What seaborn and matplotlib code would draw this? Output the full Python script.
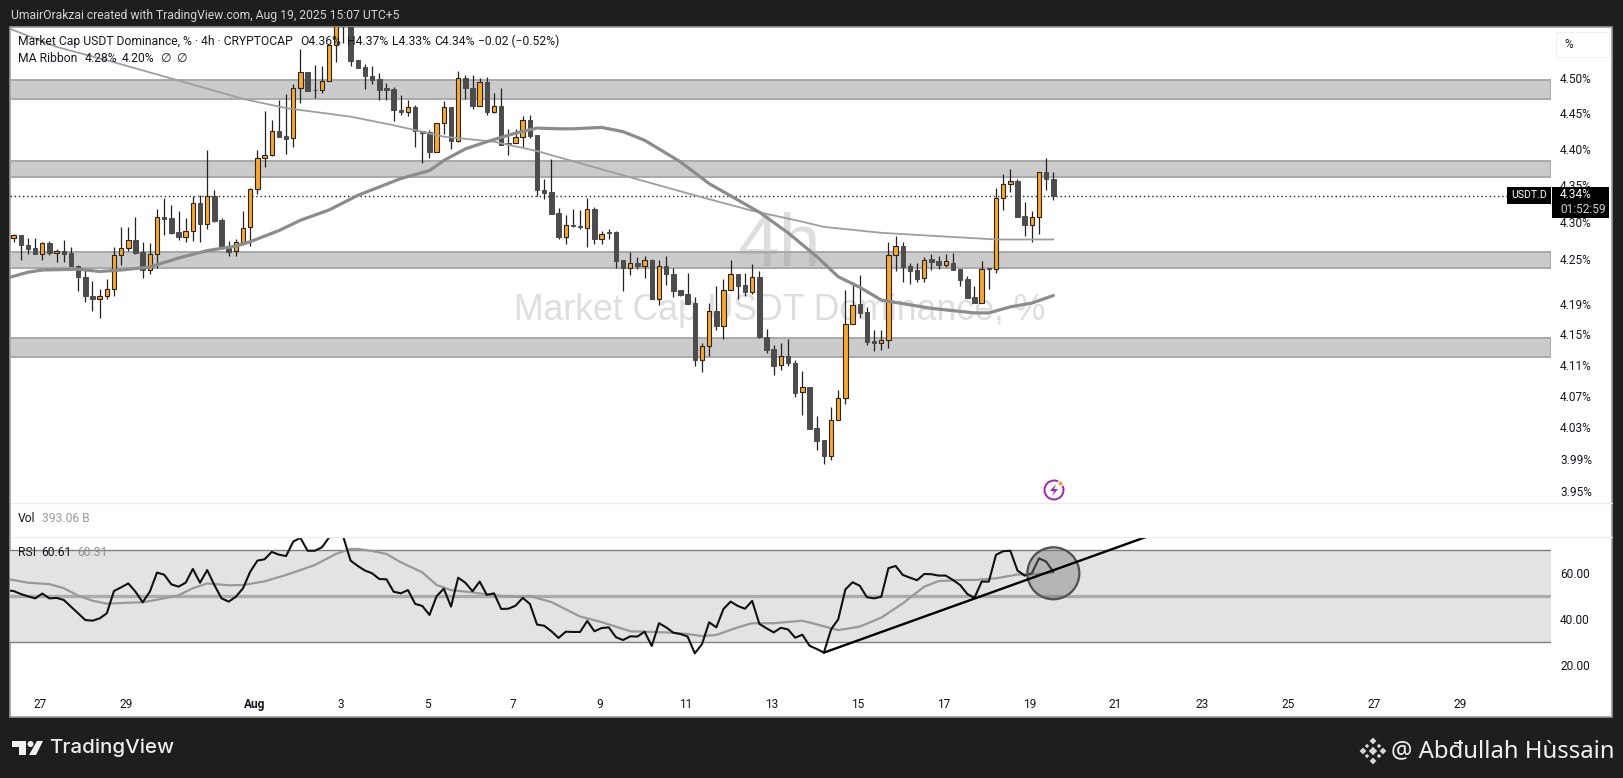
import numpy as np
import seaborn as sns
import matplotlib
matplotlib.use("Agg")
import matplotlib.pyplot as plt
from matplotlib.patches import Rectangle, Circle, Ellipse, Polygon
from matplotlib.lines import Line2D
from matplotlib.ticker import NullLocator
from matplotlib.transforms import IdentityTransform

W, H = 1623, 778

# candles, 4h (percent)
highs = [4.284, 4.282, 4.278, 4.278, 4.273, 4.274, 4.263, 4.275, 4.266, 4.242,
         4.235, 4.220, 4.209, 4.223, 4.266, 4.293, 4.293, 4.306, 4.273, 4.271,
         4.317, 4.332, 4.323, 4.314, 4.305, 4.335, 4.336, 4.398, 4.343, 4.305,
         4.274, 4.277, 4.314, 4.346, 4.398, 4.453, 4.440, 4.468, 4.477, 4.491,
         4.541, 4.508, 4.518, 4.516, 4.546, 4.590, 4.597, 4.591, 4.525, 4.519,
         4.516, 4.506, 4.493, 4.487, 4.475, 4.468, 4.462, 4.425, 4.426, 4.436,
         4.467, 4.459, 4.510, 4.504, 4.504, 4.499, 4.501, 4.478, 4.485, 4.428,
         4.428, 4.446, 4.447, 4.419, 4.358, 4.386, 4.319, 4.309, 4.317, 4.316,
         4.332, 4.320, 4.287, 4.290, 4.287, 4.249, 4.259, 4.253, 4.254, 4.250,
         4.248, 4.254, 4.238, 4.208, 4.231, 4.199, 4.139, 4.191, 4.213, 4.223,
         4.248, 4.229, 4.231, 4.243, 4.233, 4.157, 4.136, 4.139, 4.144, 4.117,
         4.102, 4.081, 4.044, 4.014, 4.056, 4.077, 4.208, 4.219, 4.228, 4.186,
         4.156, 4.156, 4.273, 4.281, 4.273, 4.245, 4.245, 4.253, 4.257, 4.254,
         4.256, 4.258, 4.236, 4.227, 4.214, 4.247, 4.237, 4.346, 4.365, 4.372,
         4.358, 4.327, 4.315, 4.368, 4.387, 4.368]
lows = [4.272, 4.248, 4.256, 4.256, 4.248, 4.255, 4.246, 4.246, 4.240, 4.207,
        4.192, 4.181, 4.171, 4.197, 4.201, 4.242, 4.261, 4.256, 4.224, 4.230,
        4.237, 4.282, 4.284, 4.275, 4.272, 4.274, 4.273, 4.290, 4.300, 4.264,
        4.254, 4.254, 4.268, 4.267, 4.338, 4.375, 4.390, 4.417, 4.393, 4.403,
        4.464, 4.481, 4.471, 4.479, 4.496, 4.523, 4.550, 4.517, 4.514, 4.484,
        4.491, 4.468, 4.469, 4.439, 4.448, 4.446, 4.403, 4.381, 4.388, 4.396,
        4.421, 4.400, 4.410, 4.470, 4.456, 4.460, 4.448, 4.450, 4.405, 4.392,
        4.408, 4.402, 4.415, 4.335, 4.331, 4.311, 4.277, 4.270, 4.293, 4.290,
        4.266, 4.270, 4.270, 4.277, 4.238, 4.207, 4.228, 4.236, 4.224, 4.196,
        4.189, 4.215, 4.199, 4.200, 4.190, 4.109, 4.101, 4.121, 4.156, 4.144,
        4.208, 4.196, 4.201, 4.203, 4.145, 4.126, 4.097, 4.103, 4.108, 4.069,
        4.045, 4.028, 4.001, 3.983, 3.988, 4.039, 4.060, 4.163, 4.171, 4.136,
        4.128, 4.129, 4.132, 4.233, 4.219, 4.216, 4.219, 4.219, 4.235, 4.236,
        4.239, 4.235, 4.213, 4.198, 4.191, 4.191, 4.210, 4.231, 4.316, 4.340,
        4.306, 4.281, 4.272, 4.283, 4.343, 4.330]
opens = [4.278, 4.282, 4.268, 4.264, 4.257, 4.271, 4.258, 4.261, 4.258, 4.241,
         4.226, 4.201, 4.197, 4.201, 4.209, 4.255, 4.265, 4.275, 4.259, 4.235,
         4.257, 4.307, 4.305, 4.286, 4.280, 4.288, 4.326, 4.297, 4.335, 4.302,
         4.267, 4.260, 4.271, 4.293, 4.344, 4.387, 4.391, 4.425, 4.418, 4.415,
         4.485, 4.508, 4.483, 4.482, 4.496, 4.546, 4.588, 4.583, 4.525, 4.515,
         4.502, 4.498, 4.485, 4.484, 4.455, 4.451, 4.459, 4.425, 4.423, 4.396,
         4.436, 4.458, 4.411, 4.499, 4.486, 4.460, 4.494, 4.452, 4.460, 4.408,
         4.408, 4.416, 4.440, 4.419, 4.343, 4.341, 4.312, 4.280, 4.295, 4.294,
         4.292, 4.317, 4.276, 4.286, 4.286, 4.248, 4.237, 4.244, 4.241, 4.249,
         4.196, 4.240, 4.229, 4.208, 4.203, 4.191, 4.117, 4.134, 4.181, 4.161,
         4.208, 4.229, 4.215, 4.206, 4.226, 4.146, 4.131, 4.110, 4.122, 4.113,
         4.075, 4.081, 4.029, 4.014, 3.993, 4.039, 4.067, 4.163, 4.190, 4.179,
         4.141, 4.138, 4.142, 4.255, 4.267, 4.240, 4.235, 4.224, 4.250, 4.247,
         4.242, 4.245, 4.236, 4.223, 4.199, 4.191, 4.237, 4.236, 4.332, 4.351,
         4.355, 4.308, 4.296, 4.306, 4.368, 4.358]
closes = [4.282, 4.268, 4.263, 4.257, 4.271, 4.258, 4.261, 4.257, 4.241, 4.225,
          4.201, 4.197, 4.201, 4.209, 4.255, 4.265, 4.275, 4.258, 4.235, 4.257,
          4.307, 4.304, 4.285, 4.280, 4.288, 4.326, 4.297, 4.335, 4.301, 4.267,
          4.259, 4.272, 4.292, 4.344, 4.387, 4.391, 4.425, 4.417, 4.414, 4.485,
          4.508, 4.481, 4.482, 4.496, 4.546, 4.580, 4.585, 4.524, 4.514, 4.502,
          4.497, 4.483, 4.483, 4.455, 4.451, 4.458, 4.425, 4.422, 4.396, 4.436,
          4.458, 4.411, 4.499, 4.486, 4.460, 4.494, 4.452, 4.460, 4.406, 4.407,
          4.416, 4.440, 4.418, 4.343, 4.339, 4.311, 4.280, 4.295, 4.294, 4.293,
          4.317, 4.276, 4.284, 4.285, 4.247, 4.237, 4.244, 4.240, 4.249, 4.196,
          4.240, 4.229, 4.207, 4.202, 4.190, 4.116, 4.134, 4.181, 4.161, 4.208,
          4.229, 4.214, 4.206, 4.225, 4.146, 4.130, 4.109, 4.121, 4.113, 4.074,
          4.081, 4.028, 4.013, 3.993, 4.039, 4.067, 4.163, 4.189, 4.178, 4.140,
          4.138, 4.142, 4.255, 4.267, 4.239, 4.234, 4.223, 4.249, 4.246, 4.242,
          4.247, 4.235, 4.222, 4.198, 4.191, 4.236, 4.236, 4.332, 4.351, 4.355,
          4.307, 4.296, 4.306, 4.368, 4.358, 4.335]

# the two moving averages, read at a few candles (-1 is just off the left edge)
ma_thin_x = [-1, 6, 14, 23, 32, 38, 47, 53, 60, 67, 73, 83, 95, 103, 110, 113, 121, 128, 137, 145]
ma_thin_y = [4.572, 4.544, 4.522, 4.496, 4.470, 4.457, 4.445, 4.433, 4.417, 4.410,
             4.397, 4.369, 4.336, 4.315, 4.300, 4.293, 4.285, 4.281, 4.276, 4.276]
ma_thick_x = [-1, 2, 4, 9, 12, 15, 19, 23, 27, 31, 33, 37, 40, 42, 44, 48, 54, 58, 60, 63, 66, 70, 73,
              76, 78, 82, 85, 88, 93, 97, 104, 108, 112, 115, 118, 121, 128, 134, 136, 139, 142, 145]
ma_thick_y = [4.224, 4.232, 4.235, 4.236, 4.233, 4.235, 4.239, 4.251, 4.261, 4.267, 4.273, 4.288,
              4.302, 4.309, 4.316, 4.336, 4.359, 4.370, 4.384, 4.400, 4.410, 4.422, 4.429,
              4.428, 4.428, 4.430, 4.424, 4.412, 4.382, 4.352, 4.313, 4.285, 4.253, 4.226,
              4.212, 4.195, 4.184, 4.178, 4.178, 4.186, 4.191, 4.201]

# grey zones drawn by the author
zone_lows = [4.470, 4.361, 4.238, 4.120]
zone_highs = [4.497, 4.383, 4.259, 4.145]

price_ticks = [4.50, 4.45, 4.40, 4.35, 4.30, 4.25, 4.19, 4.15, 4.11, 4.07, 4.03, 3.99, 3.95]

# first value is the candle just off the left edge
rsi = [52.6,
       52.3, 51.0, 50.0, 49.1, 51.2, 49.1, 49.3, 48.4, 45.5, 42.6,
       39.7, 39.4, 40.4, 42.6, 52.3, 53.9, 55.6, 52.0, 47.4, 52.0,
       60.3, 59.4, 55.2, 54.2, 55.9, 61.9, 55.9, 61.4, 54.9, 49.1,
       47.7, 49.8, 53.5, 60.7, 65.5, 66.1, 69.3, 68.1, 67.5, 73.8,
       75.4, 69.8, 69.8, 71.3, 75.6, 80.0, 75.6, 65.5, 63.2, 61.2,
       60.0, 57.5, 57.4, 52.0, 51.3, 52.7, 46.7, 45.8, 41.9, 50.1,
       53.3, 45.5, 58.1, 55.9, 52.2, 56.4, 50.6, 51.3, 44.5, 44.6,
       45.9, 49.3, 46.7, 37.7, 37.2, 34.8, 31.9, 34.6, 34.5, 34.5,
       39.3, 34.8, 36.2, 36.5, 32.2, 31.0, 32.6, 32.5, 34.6, 28.4,
       38.3, 36.5, 34.2, 33.6, 32.5, 25.2, 29.2, 38.7, 36.5, 44.5,
       47.7, 45.8, 44.6, 48.0, 38.0, 36.1, 34.3, 36.3, 35.6, 32.0,
       33.3, 28.5, 27.1, 25.5, 35.6, 40.0, 53.0, 56.1, 54.6, 49.6,
       49.1, 49.8, 62.2, 63.2, 59.3, 58.1, 57.0, 59.7, 59.6, 59.0,
       59.0, 57.1, 54.9, 51.0, 49.3, 56.4, 56.4, 68.0, 69.6, 69.8,
       61.2, 59.0, 60.0, 66.5, 65.1, 60.6]
rsi_ma_x = [-1, 2, 5, 7, 9, 11, 13, 16, 18, 20, 23, 25, 27, 30, 32, 35, 38, 40, 42, 45, 47, 48,
            50, 52, 54, 57, 59, 61, 64, 67, 70, 72, 75, 79, 82, 86, 91, 94, 96, 98, 101,
            103, 106, 110, 112, 115, 118, 121, 124, 127, 129, 132, 134, 137, 140, 142, 145]
rsi_ma_y = [57.6, 55.9, 55.3, 53.5, 50.3, 48.1, 46.8, 47.2, 47.4, 48.5, 50.4, 53.5, 55.6, 54.8, 54.9,
            56.5, 59.3, 61.4, 63.6, 68.5, 70.6, 70.6,
            69.7, 68.4, 64.8, 60.4, 54.9, 52.7, 51.7, 50.4, 49.8, 50.1, 47.5, 41.2, 38.8, 34.8,
            34.3, 33.6, 32.7, 33.2, 36.5,
            38.3, 38.3, 39.4, 37.8, 35.3, 36.8, 40.7, 46.9, 54.2, 56.6, 57.1, 57.1, 57.8, 59.5, 59.5, 60.3]
rsi_levels = [30, 50, 70]
rsi_ticks = [60, 40, 20]
trend_x = [113, 159]
trend_y = [25.5, 77.0]

# date labels: days after Jul 27 and what they say
label_days = [0, 2, 5, 7, 9, 11, 13, 15, 17, 19, 21, 23, 25, 27, 29, 31, 33]
label_text = ["27", "29", "Aug", "3", "5", "7", "9", "11", "13", "15", "17", "19", "21", "23", "25", "27", "29"]
first_day_pos = 3.68
bars_per_day = 6

sns.set_theme(style="white")
plt.rcParams['font.family'] = ['Roboto', 'DejaVu Sans']

DARK = "#1e1e1e"
INK = "#131722"
UP = "#f7a733"
DOWN = "#4c4c4c"


def fx(x):
    return x / W


def fy(y):
    return 1 - y / H


def box(x0, y0, x1, y1):
    return [fx(x0), fy(y1), fx(x1) - fx(x0), fy(y0) - fy(y1)]


def label(x, y, s, color=INK, size=8.6, ha="left", **kw):
    return fig.text(fx(x), fy(y), s, color=color, fontsize=size, ha=ha, va="center", **kw)


def pix_patch(p):
    p.set_transform(IdentityTransform())
    fig.add_artist(p)


fig = plt.figure(figsize=(W / 100, H / 100), dpi=100, facecolor=DARK)
fig.add_artist(Rectangle((fx(10), fy(717)), fx(1602), fy(27) - fy(717), transform=fig.transFigure,
                         facecolor="white", edgecolor="#9c9c9c", linewidth=1.2, zorder=-1))

ax = fig.add_axes(box(10, 27, 1551, 503), facecolor="none")
rx = fig.add_axes(box(10, 537, 1551, 693), facecolor="none")

x = np.arange(len(closes))
xlim = (-0.5, 214.4)
ax.set_yscale("log")

# watermark first, the zones are see-through
label(779, 246, "4h", color="#dedede", size=54, ha="center", family="Liberation Sans", zorder=-0.5)
label(780, 310, "Market Cap USDT Dominance, %", color="#dedede", size=25.7, ha="center",
      family="Liberation Sans", zorder=-0.5)

for lo, hi in zip(zone_lows, zone_highs):
    ax.axhspan(lo, hi, facecolor=(0.6, 0.6, 0.6, 0.5), edgecolor="#a9a9a9", linewidth=1.4, zorder=1)

ax.axhline(closes[-1], color="#222222", linewidth=1, linestyle=(0, (1, 2)), zorder=1.5)

is_up = np.array(closes) >= np.array(opens)
ax.vlines(x, lows, highs, color="#222222", linewidth=0.9, zorder=2)
body_low = np.minimum(opens, closes)
body_high = np.maximum(opens, closes)
ax.bar(x[~is_up], (body_high - body_low)[~is_up], bottom=body_low[~is_up], width=0.62,
       color=DOWN, edgecolor=DOWN, linewidth=0.7, zorder=3)
ax.bar(x[is_up], (body_high - body_low)[is_up], bottom=body_low[is_up], width=0.62,
       color=UP, edgecolor="#2b2416", linewidth=0.8, zorder=3)

sns.lineplot(x=ma_thin_x, y=ma_thin_y, ax=ax, color="#9e9e9e", linewidth=1.3, zorder=4, legend=False)
sns.lineplot(x=ma_thick_x, y=ma_thick_y, ax=ax, color="#8c8c8c", linewidth=2.3, zorder=4, legend=False)

ax.set_xlim(xlim)
ax.set_ylim(3.9347, 4.5726)
ax.yaxis.tick_right()
ax.set_yticks(price_ticks)
ax.set_yticklabels(["%.2f%%" % t for t in price_ticks])
ax.yaxis.set_minor_locator(NullLocator())
ax.tick_params(axis="y", length=0, pad=6.5, labelsize=8.6, labelcolor=INK)
ax.set_xticks([])
ax.set_xlabel("")
ax.set_ylabel("")
sns.despine(ax=ax, left=True, bottom=True, right=True, top=True)

# RSI pane
rx.axhspan(rsi_levels[0], rsi_levels[2], facecolor="#e3e3e3", edgecolor="none", zorder=1)
rx.axhline(rsi_levels[0], color="#808080", linewidth=1, zorder=1.2)
rx.axhline(rsi_levels[2], color="#808080", linewidth=1, zorder=1.2)
rx.axhline(rsi_levels[1], color="#acacac", linewidth=2.4, zorder=1.2)
sns.lineplot(x=rsi_ma_x, y=rsi_ma_y, ax=rx, color="#999999", linewidth=1.6, zorder=2, legend=False)
sns.lineplot(x=np.arange(-1, len(closes)), y=rsi, ax=rx, color="#111111", linewidth=1.5, zorder=3, legend=False)
rx.add_patch(Ellipse((145, 60), 7.25, 22.6, facecolor=(0.44, 0.44, 0.44, 0.4),
                     edgecolor="#505050", linewidth=1.6, zorder=3.5))
sns.lineplot(x=trend_x, y=trend_y, ax=rx, color="#000000", linewidth=1.7, zorder=4, legend=False)
rx.set_xlim(xlim)
rx.set_ylim(7.96, 75.78)
rx.yaxis.tick_right()
rx.set_yticks(rsi_ticks)
rx.set_yticklabels(["%.2f" % t for t in rsi_ticks])
rx.set_xticks([first_day_pos + d * bars_per_day for d in label_days])
rx.set_xticklabels(label_text)
rx.get_xticklabels()[2].set_fontweight("bold")
rx.tick_params(axis="y", length=0, pad=6.5, labelsize=8.6, labelcolor=INK)
rx.tick_params(axis="x", length=0, pad=3.4, labelsize=8.6, labelcolor=INK)
rx.set_xlabel("")
rx.set_ylabel("")
sns.despine(ax=rx, left=True, bottom=True, right=True, top=True)

# pane separators
for yy in (503, 537):
    fig.add_artist(Line2D([fx(11), fx(1612)], [fy(yy), fy(yy)], color="#ececec", linewidth=0.9,
                          transform=fig.transFigure))

# header and legends
label(11, 15, "UmairOrakzai created with TradingView.com, Aug 19, 2025 15:07 UTC+5", color="#d4d4d4", size=8.7)
label(18, 41.7, "Market Cap USDT Dominance, % · 4h · CRYPTOCAP", size=8.7, zorder=6)
label(300.7, 41.7, "O4.36%", size=8.7, zorder=6)
label(347, 41.7, "H4.37%", size=8.7, zorder=6)
label(392, 41.7, "L4.33%", size=8.7, zorder=6)
label(434, 41.7, "C4.34%", size=8.7, zorder=6)
label(478, 41.7, "−0.02 (−0.52%)", size=8.7, zorder=6)
label(18, 59, "MA Ribbon", size=8.7, zorder=6)
label(84.6, 59, "4.28%", size=8.7, zorder=6)
label(121.8, 59, "4.20%", size=8.7, zorder=6)
label(160, 59, "∅", size=8.7, zorder=6)
label(176, 59, "∅", size=8.7, zorder=6)
label(18, 519, "Vol", size=8.7)
label(41.5, 519, "393.06 B", color="#9a9a9a", size=8.7)
label(18, 552.7, "RSI", size=8.7, zorder=6)
label(41.5, 552.7, "60.61", size=8.7, zorder=6)
label(77.5, 552.7, "60.31", color="#8f8f8f", size=8.7, zorder=6)

# % button
fig.add_artist(Rectangle((fx(1556), fy(57)), fx(53), fy(32) - fy(57), transform=fig.transFigure,
                         facecolor="white", edgecolor="#f1f1f1", linewidth=0.8))
label(1564, 44.5, "%", size=8.6)

# last price tags sit on top of the tick labels
fig.add_artist(Rectangle((fx(1507), fy(203.7)), fx(44), fy(187) - fy(203.7), transform=fig.transFigure,
                         facecolor="black", edgecolor="none", zorder=5))
fig.add_artist(Rectangle((fx(1552), fy(217.7)), fx(57), fy(187) - fy(217.7), transform=fig.transFigure,
                         facecolor="black", edgecolor="none", zorder=5))
label(1529, 195, "USDT.D", color="white", size=7.6, ha="center", zorder=6)
label(1560, 195, "4.34%", color="white", size=8.6, zorder=6)
label(1560, 209.5, "01:52:59", color="#cfcfcf", size=8.6, zorder=6)

# purple flash badge
pix_patch(Circle((1054, H - 490), 9.5, facecolor="none", edgecolor="#9c27b0", linewidth=1.4))
pix_patch(Circle((1060.5, H - 483.5), 2.6, facecolor="#f0a040", edgecolor="white", linewidth=0.8))
pix_patch(Polygon([(1056, H - 484), (1050, H - 491), (1054, H - 491), (1052, H - 496), (1058, H - 489),
                   (1054, H - 489)], closed=True, facecolor="#9c27b0", edgecolor="none"))

# footer: logo and name
for pts in ([(12, 741), (26, 741), (26, 755), (19, 755), (19, 747), (12, 747)],
            [(37, 741), (43, 741), (36, 755), (29, 755)]):
    pix_patch(Polygon([(a, H - b) for a, b in pts], closed=True, facecolor="#f2f2f2", edgecolor="none"))
pix_patch(Circle((30.5, H - 744), 3, facecolor="#f2f2f2", edgecolor="none"))
label(49, 748, "TradingView", color="#eeeeee", size=14.8, family="Inter", fontweight="medium")

for cx, cy, r in ((1373, 741, 3.4), (1373, 761, 3.4), (1363, 751, 3.4), (1383, 751, 3.4), (1373, 751, 4.2),
                  (1367, 746, 2.2), (1379, 746, 2.2), (1367, 756, 2.2), (1379, 756, 2.2)):
    pix_patch(Polygon([(cx, H - cy + r), (cx + r, H - cy), (cx, H - cy - r), (cx - r, H - cy)], closed=True,
                      facecolor="#d8d8d8", edgecolor="none"))
label(1391, 751, "@ Abđullah Hùssain", color="#f0f0f0", size=17.2, family="Noto Sans")

fig.savefig("out.png", dpi=100, facecolor=fig.get_facecolor())
